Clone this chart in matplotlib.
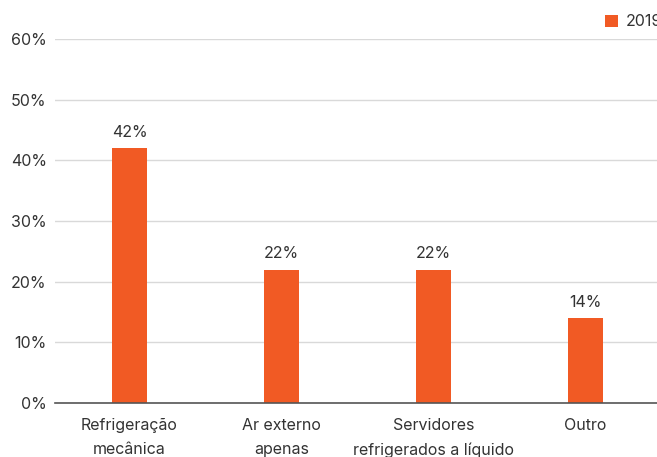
import matplotlib
matplotlib.use("Agg")
import matplotlib.pyplot as plt

plt.rcParams['font.family'] = ['Inter', 'DejaVu Sans']

categories = ["Refrigeração\nmecânica", "Ar externo\napenas",
              "Servidores\nrefrigerados a líquido", "Outro"]
values_2019 = [42, 22, 22, 14]
yticks = [0, 10, 20, 30, 40, 50, 60]
series_name = "2019"

bar_color = "#F15A24"
text_color = "#333333"
fs = 11.5

fig = plt.figure(figsize=(6.57, 4.57), dpi=100)
ax = fig.add_axes([55/657, 54/457, 608/657, 364/457])

x = list(range(len(categories)))
bars = ax.bar(x, values_2019, width=0.23, color=bar_color, zorder=3, label=series_name)

for xi, v in zip(x, values_2019):
    ax.annotate(f"{v}%", (xi, v), xytext=(0, 6), textcoords="offset points",
                ha="center", va="bottom", fontsize=fs, color=text_color)

ax.set_xlim(-0.49, 3.51)
ax.set_ylim(0, 60)
ax.set_yticks(yticks)
ax.set_yticklabels([f"{t}%" for t in yticks], fontsize=fs, color=text_color)
ax.set_xticks(x)
ax.set_xticklabels(categories, fontsize=fs, color=text_color, linespacing=1.75)

ax.grid(axis="y", color="#d9d9d9", linewidth=1, zorder=0)
ax.tick_params(axis="both", length=0)
ax.tick_params(axis="y", pad=6)
ax.tick_params(axis="x", pad=11)
for side in ["top", "right", "left"]:
    ax.spines[side].set_visible(False)
ax.spines["bottom"].set_color("#555555")
ax.spines["bottom"].set_linewidth(1.2)
ax.spines["bottom"].set_zorder(4)

leg = fig.legend(handles=[bars], labels=[series_name], loc="upper left",
                 bbox_to_anchor=(599/657, 1 - 8/457), frameon=False,
                 fontsize=fs, handlelength=0.8, handleheight=0.8,
                 handletextpad=0.5, borderaxespad=0)
for t in leg.get_texts():
    t.set_color(text_color)

fig.savefig("out.png", dpi=100)
